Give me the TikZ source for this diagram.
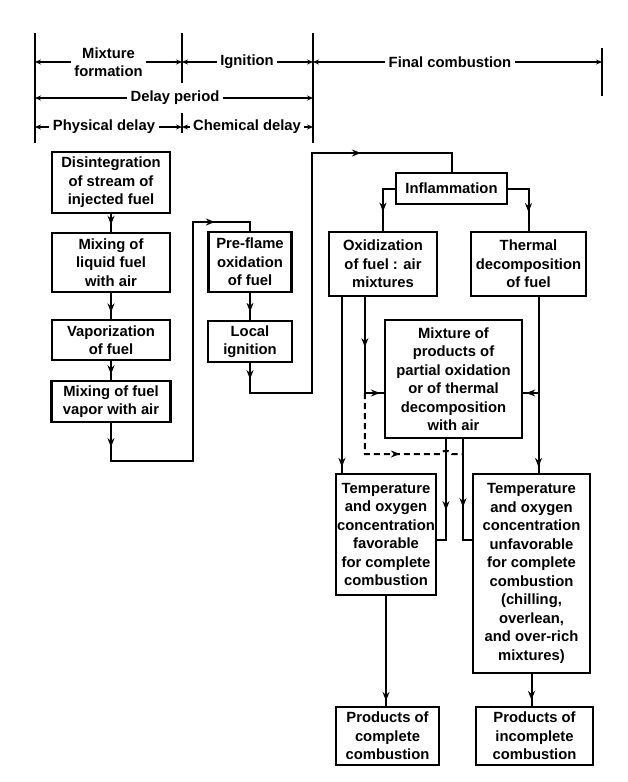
\documentclass[tikz,border=0pt]{standalone}
\usepackage{fontspec}
\setmainfont{Liberation Sans}
\usetikzlibrary{arrows.meta,decorations.markings}

\begin{document}
\begin{tikzpicture}[x=1pt,y=-1pt,
    font=\fontsize{14.8}{18.5}\selectfont\bfseries,
    box/.style={rectangle,draw=black,line width=2.2pt,align=center,inner sep=1pt},
    link/.style={line width=2pt},
    tip/.style={postaction={decorate,decoration={markings,mark=at position #1 with {\arrow{Stealth[length=9pt,width=7pt]}}}}},
    span/.style={line width=1.8pt,-{Stealth[length=6pt,width=5pt]}},
    tick/.style={line width=2.2pt}]
      \fill[white] (0,0) rectangle (628,782);
      \useasboundingbox (0,0) rectangle (628,782);
      \foreach \n/\x/\a/\b in {t0/35/33/143,t1/182/33/83,t2/313/33/143,t3/602/48/96}{
        \coordinate (\n) at (\x,\a);
        \draw [tick] (\n) -- (\x,\b);
      }
      \draw [tick] (182,113) -- (182,133);
      \node (mix) [align=center] at (108.5,62) {Mixture\\formation};
      \node (ign) at (247,62) {Ignition};
      \node (fin) at (450,62) {Final combustion};
      \node (del) at (175,98) {Delay period};
      \node (phy) at (104,127) {Physical delay};
      \node (che) at (247,127) {Chemical delay};
      \foreach \l/\r in {mix/t0,mix/t1,ign/t1,ign/t2,fin/t2,fin/t3,del/t0,del/t2,phy/t0,phy/t1,che/t1,che/t2}{
        \draw [span] (\l) -- (\l -| \r);
      }
      \foreach \n/\x/\y/\w/\h/\t in {
          p1/111/182.5/118/61/{Disintegration\\of stream of\\injected fuel},
          p2/111/262.5/118/59/{Mixing of\\liquid fuel\\with air},
          p3/111/340/118/40/{Vaporization\\of fuel},
          p4/111/401.5/119/41/{Mixing of fuel\\vapor with air},
          c1/250/262/83/60/{Pre-flame\\oxidation\\of fuel},
          c2/250/341.5/84/41/{Local\\ignition},
          f1/451.5/188.5/111/31/{Inflammation},
          f2/383/264/108/64/{Oxidization\\of fuel : air\\mixtures},
          f3/528.5/264/115/64/{Thermal\\decomposition\\of fuel},
          f4/453.5/379/137/118/{Mixture of\\products of\\partial oxidation\\or of thermal\\decomposition\\with air},
          f5/386/534.5/100/121/{Temperature\\and oxygen\\concentration\\favorable\\for complete\\combustion},
          f6/531.5/573.5/117/199/{Temperature\\and oxygen\\concentration\\unfavorable\\for complete\\combustion\\(chilling,\\overlean,\\and over-rich\\mixtures)},
          f7/387.5/736/103/58/{Products of\\complete\\combustion},
          f8/534.5/736/117/58/{Products of\\incomplete\\combustion}}{
        \node (\n) [box,minimum width=\w pt,minimum height=\h pt] at (\x,\y) {\t};
      }
      \coordinate (j1) at ([xshift=10pt]f3.south |- 0,393);
      \coordinate (j2) at ([xshift=37pt]f2.south west |- 0,393);
      \coordinate (j3) at ([xshift=9.5pt]f4.south |- 0,454);
      \draw [link,tip=0.6] (p1) -- (p2);
      \draw [link,tip=0.75] (p2) -- (p3);
      \draw [link,tip=0.7] (p3) -- (p4);
      \draw [link,tip=24pt,tip=381pt] (p4.south) -- ++(0,38) -| (193,222) -| (c1.north);
      \draw [link,tip=0.7] (c1) -- (c2);
      \draw [link,tip=16pt,tip=381pt] (c2.south) -- ++(0,30) -| (312,153) -| (f1.north);
      \draw [link,tip=35pt] (f1.west) -| (f2.north);
      \draw [link,tip=44pt] (f1.east) -| (f3.north);
      \draw [link,tip=-6pt] ([xshift=14pt]f2.south west) -- ([xshift=14pt]f2.south west |- f5.north);
      \draw [link,tip=50pt,tip=-4pt] ([xshift=37pt]f2.south west) |- ([yshift=-14pt]f4.west);
      \draw [link,tip=-6pt] ([xshift=10pt]f3.south) -- ([xshift=10pt]f3.south |- f6.north);
      \draw [link,tip=0.8] (j1) -- ([yshift=-14pt]f4.east);
      \draw [link,dash pattern=on 6pt off 4pt,tip=96pt] (j2) -- (j2 |- 0,454) -- (440,454) to[out=70,in=110] (452,454) -- (j3);
      \draw [link,tip=71pt] ([xshift=-7.5pt]f4.south) |- ([yshift=-5.5pt]f5.east);
      \draw [link,tip=68pt] ([xshift=9.5pt]f4.south) |- ([yshift=33.5pt]f6.west);
      \draw [link,tip=-5pt] (f5.south) -- (f5.south |- f7.north);
      \draw [link,tip=-6pt] (f6.south) -- (f6.south |- f8.north);
    \end{tikzpicture}
\end{document}
